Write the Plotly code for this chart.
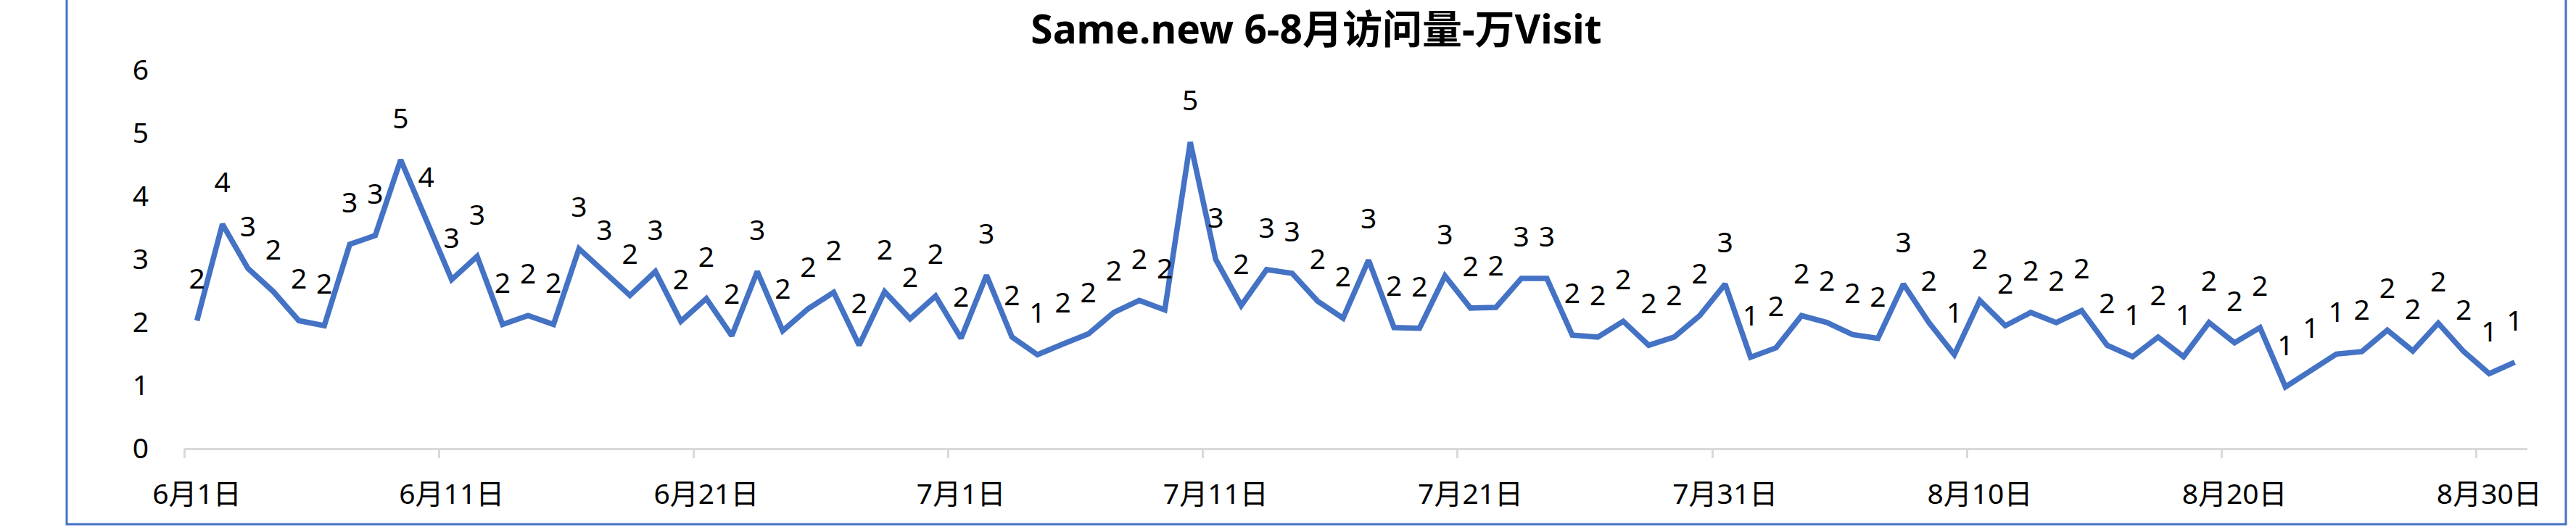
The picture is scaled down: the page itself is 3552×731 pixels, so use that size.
import pandas as pd
import plotly.graph_objects as go

# ---- data ----
dates = pd.date_range("2025-06-01", "2025-08-31", freq="D")
date_labels = [f"{d.month}月{d.day}日" for d in dates]

visits = [
    2.02, 3.55, 2.85, 2.48, 2.02, 1.94, 3.23, 3.37, 4.57, 3.63,
    2.67, 3.04, 1.96, 2.10, 1.96, 3.16, 2.79, 2.42, 2.80, 2.01,
    2.37, 1.78, 2.80, 1.86, 2.21, 2.47, 1.63, 2.48, 2.05, 2.41,
    1.74, 2.74, 1.76, 1.48, 1.65, 1.81, 2.15, 2.34, 2.19, 4.85,
    2.99, 2.26, 2.83, 2.77, 2.33, 2.06, 2.98, 1.91, 1.90, 2.73,
    2.22, 2.23, 2.69, 2.69, 1.79, 1.76, 2.01, 1.63, 1.76, 2.10,
    2.60, 1.44, 1.59, 2.10, 1.99, 1.80, 1.74, 2.60, 1.99, 1.48,
    2.34, 1.94, 2.15, 1.99, 2.18, 1.63, 1.45, 1.76, 1.45, 1.99,
    1.67, 1.91, 0.97, 1.24, 1.49, 1.53, 1.87, 1.54, 1.98, 1.53,
    1.18, 1.36,
]

y_ticks = [0, 1, 2, 3, 4, 5, 6]
title_text = "Same.new 6-8月访问量-万Visit"

FONT = "Noto Sans, Noto Sans CJK SC, sans-serif"
LINE_COLOR = "#4472C4"
AXIS_GRAY = "#D9D9D9"

n = len(date_labels)
boundary_ticks = [i - 0.5 for i in range(0, n, 10)]

fig = go.Figure()
fig.add_trace(go.Scatter(
    x=date_labels, y=visits,
    mode="lines+markers+text",
    line=dict(color=LINE_COLOR, width=7.5),
    marker=dict(size=53, color="rgba(0,0,0,0)", line=dict(width=0)),
    text=[f"{round(v):d}" for v in visits],
    textposition="top center",
    textfont=dict(family=FONT, size=39, color="#000000"),
    showlegend=False,
    hoverinfo="x+y",
    cliponaxis=False,
))
# invisible helper trace for the boundary tick axis
fig.add_trace(go.Scatter(x=[], y=[], xaxis="x2", showlegend=False, hoverinfo="skip"))

W, H = 3552, 731
L, R, T, B = 254, 3552 - 3485, 96, 731 - 618

fig.update_layout(
    width=W, height=H,
    margin=dict(l=L, r=R, t=T, b=B, pad=0),
    paper_bgcolor="white", plot_bgcolor="white",
    title=dict(
        text=f"<b>{title_text}</b>",
        font=dict(family=FONT, size=55, color="#000000"),
        x=1815 / W, xref="container", xanchor="center",
        y=1 - 41 / H, yref="container", yanchor="middle",
    ),
    xaxis=dict(
        type="category",
        range=[-0.5, n - 0.5],
        tickmode="linear", tick0=0, dtick=10,
        ticks="", showgrid=False, zeroline=False,
        showline=True, linecolor=AXIS_GRAY, linewidth=3,
        tickfont=dict(family=FONT, size=39, color="#000000"),
        ticklabelstandoff=27,
        fixedrange=True,
    ),
    xaxis2=dict(
        type="linear", overlaying="x", anchor="y", side="bottom",
        range=[-0.5, n - 0.5],
        tickmode="array", tickvals=boundary_ticks,
        ticks="outside", ticklen=13, tickwidth=3, tickcolor=AXIS_GRAY,
        showticklabels=False, showgrid=False, zeroline=False, showline=False,
    ),
    yaxis=dict(
        range=[0, 6], tickmode="array", tickvals=y_ticks,
        showgrid=False, zeroline=False, showline=False, ticks="",
        tickfont=dict(family=FONT, size=39, color="#000000"),
        ticklabelstandoff=48,
    ),
    shapes=[dict(
        type="rect", xref="paper", yref="paper",
        x0=(92 - L) / (W - L - R), x1=(3538 - L) / (W - L - R),
        y0=-(723 - 618) / (618 - T), y1=3,
        line=dict(color="#4472C4", width=3), fillcolor="rgba(0,0,0,0)",
        layer="below",
    )],
)

fig.write_html(
    "out.html",
    config={"displayModeBar": False},
    post_script="document.body.style.margin='0';",
)
